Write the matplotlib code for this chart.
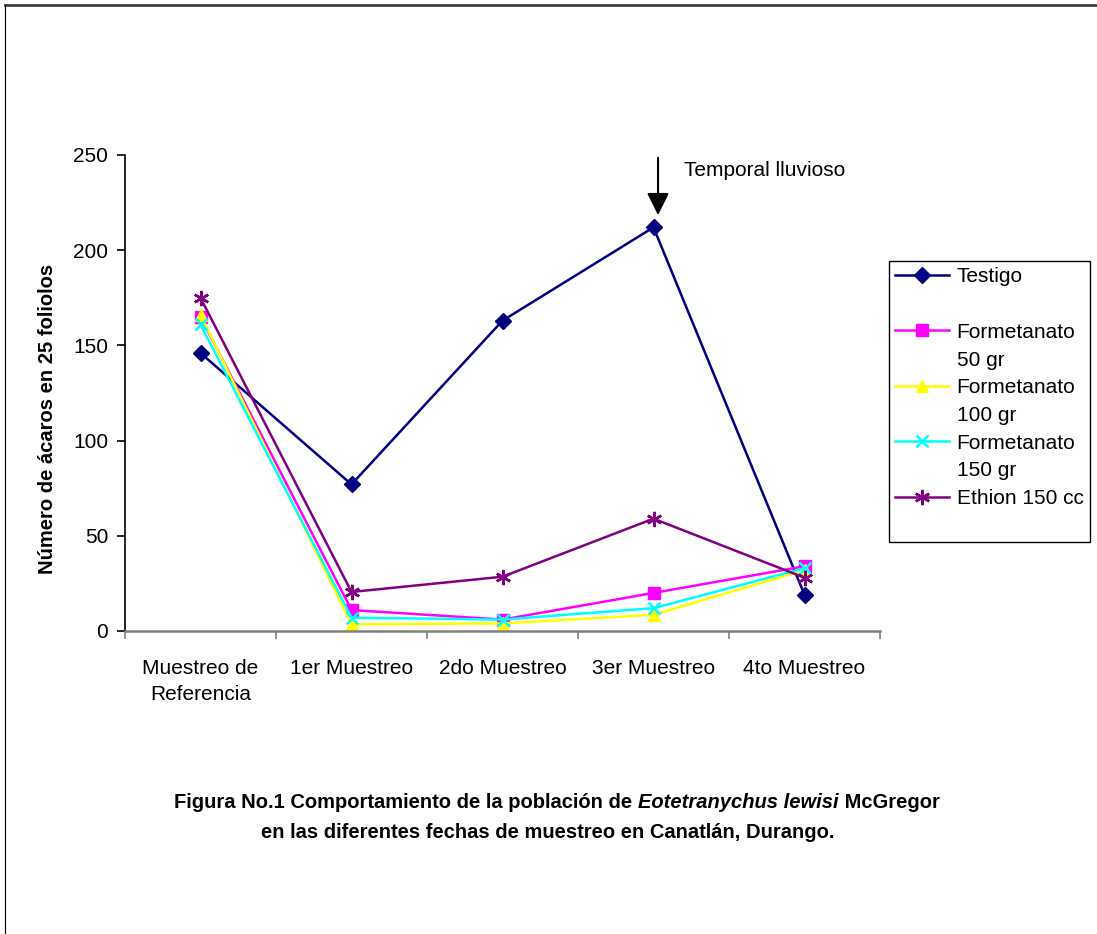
import matplotlib.pyplot as plt
from matplotlib.lines import Line2D

plt.rcParams.update({
    "font.family": ["Liberation Sans", "DejaVu Sans"],
    "font.size": 15,
})

categories = ["Muestreo de\nReferencia", "1er Muestreo", "2do Muestreo",
              "3er Muestreo", "4to Muestreo"]
testigo = [146, 77, 163, 212, 19]
form_50 = [165, 11, 6, 20, 34]
form_100 = [166, 3.5, 4, 8.5, 32]
form_150 = [161, 7, 6, 12, 33]
ethion = [175, 20.5, 28.5, 59, 28]

series = [
    ("Testigo", testigo, "#000080", "D", 8),
    ("Formetanato 50 gr", form_50, "#FF00FF", "s", 8),
    ("Formetanato 100 gr", form_100, "#FFFF00", "^", 9),
    ("Formetanato 150 gr", form_150, "#00FFFF", "x", 9),
    ("Ethion 150 cc", ethion, "#800080", (6, 2, 0), 11),
]

fig = plt.figure(figsize=(10.97, 9.34), dpi=100)
ax = fig.add_axes([125 / 1097, 1 - 631 / 934, 755 / 1097, 476 / 934])

x = list(range(len(categories)))
handles = []
for label, vals, col, mk, ms in series:
    h, = ax.plot(x, vals, color=col, lw=1.8, marker=mk, markersize=ms,
                 markeredgewidth=1.8 if mk in ("x",) or isinstance(mk, tuple) else 1,
                 markeredgecolor=col, markerfacecolor=col, clip_on=False)
    handles.append(h)

ax.set_xlim(-0.5, len(categories) - 0.5)
ax.set_ylim(0, 250)
ax.set_yticks([0, 50, 100, 150, 200, 250])

# category boundaries as major ticks, labels on minor ticks at centres
ax.set_xticks([i - 0.5 for i in range(len(categories) + 1)])
ax.set_xticklabels([])
ax.set_xticks(x, minor=True)
ax.set_xticklabels(categories, minor=True, linespacing=1.45)
ax.tick_params(axis="x", which="major", length=6, width=1.2, color="#808080")
ax.tick_params(axis="x", which="minor", length=0, pad=20)
ax.tick_params(axis="y", length=6, width=1.2, pad=6)

ax.spines["top"].set_visible(False)
ax.spines["right"].set_visible(False)
ax.spines["bottom"].set_color("#808080")
ax.spines["bottom"].set_linewidth(1.8)
ax.spines["left"].set_linewidth(1.2)

ax.set_ylabel("Número de ácaros en 25 foliolos", fontweight="bold", fontsize=14.5)
ax.yaxis.set_label_coords(-0.09, 0.446)

# arrow marking the rain event
ax.annotate("", xy=(3.03, 217), xytext=(3.03, 250),
            arrowprops=dict(arrowstyle="-|>,head_width=0.45,head_length=0.9",
                            color="black", lw=1.5), annotation_clip=False)
ax.text(3.2, 242, "Temporal lluvioso", fontsize=15, va="center", ha="left")

# legend: the long labels wrap onto a second row as in the original
blank = Line2D([], [], color="none")
leg_handles = [handles[0], blank, handles[1], blank, handles[2], blank,
               handles[3], blank, handles[4], blank]
leg_labels = ["Testigo", " ", "Formetanato", "50 gr", "Formetanato", "100 gr",
              "Formetanato", "150 gr", "Ethion 150 cc", " "]
leg = fig.legend(leg_handles, leg_labels, loc="upper left",
                 bbox_to_anchor=(889 / 1097, 1 - 261 / 934),
                 frameon=True, fancybox=False, edgecolor="black",
                 framealpha=1, handlelength=2.6, handletextpad=0.35,
                 labelspacing=0.42, borderpad=0.3, borderaxespad=0,
                 fontsize=15)
leg.get_frame().set_linewidth(1.0)

# caption below the chart, with the species name in italics
fig.canvas.draw()
r = fig.canvas.get_renderer()
parts = [("Figura No.1 Comportamiento de la población de ", "normal"),
         ("Eotetranychus lewisi", "italic"),
         (" McGregor", "normal")]
cap_size = 14.5
texts = [fig.text(0, 1 - 803 / 934, s, fontsize=cap_size, fontweight="bold",
                  fontstyle=st, va="center", ha="left") for s, st in parts]
widths = [t.get_window_extent(r).width for t in texts]
x0 = 557 - sum(widths) / 2
for t, w in zip(texts, widths):
    t.set_x(x0 / 1097)
    x0 += w
fig.text(548 / 1097, 1 - 832 / 934,
         "en las diferentes fechas de muestreo en Canatlán, Durango.",
         fontsize=cap_size, fontweight="bold", ha="center", va="center")

# outer frame of the original figure
fig.add_artist(Line2D([5 / 1097, 1], [1 - 5 / 934, 1 - 5 / 934],
                      transform=fig.transFigure, color="#404040", lw=2))
fig.add_artist(Line2D([5 / 1097, 5 / 1097], [0, 1 - 5 / 934],
                      transform=fig.transFigure, color="black", lw=0.8))

fig.savefig("out.png", dpi=100)
